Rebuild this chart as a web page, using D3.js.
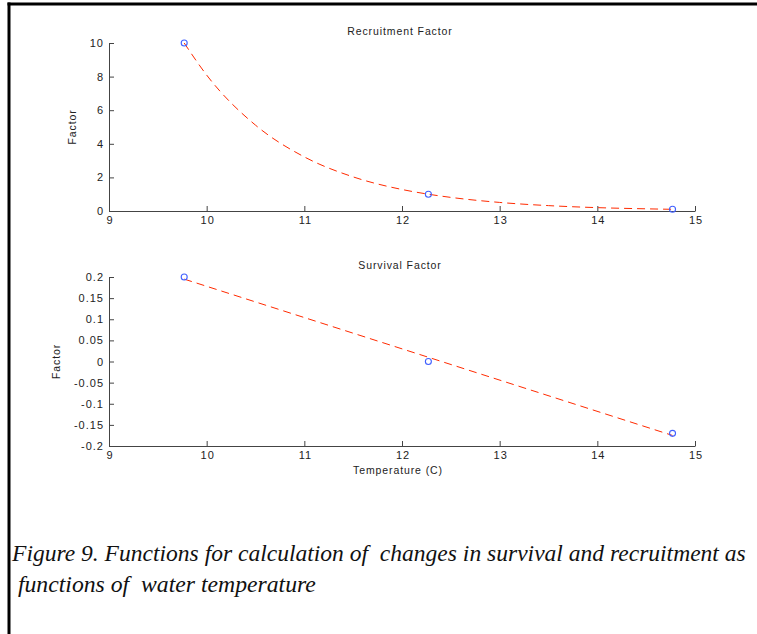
<!DOCTYPE html>
<html>
<head>
<meta charset="utf-8">
<script src="https://cdn.jsdelivr.net/npm/d3@7"></script>
<style>
  html, body { margin: 0; padding: 0; background: #fff; }
  svg { display: block; }
  .tick text { font-family: "Liberation Sans", Arial, sans-serif; font-size: 11px; fill: #222; letter-spacing: 1px; }
  .domain, .tick line { stroke: #444; }
  .lbl { font-family: "Liberation Sans", Arial, sans-serif; font-size: 10.5px; fill: #222; letter-spacing: 0.9px; }
  .cap { font-family: "Liberation Serif", "Times New Roman", serif; font-style: italic; font-size: 24px; fill: #111; white-space: pre; }
</style>
</head>
<body>
<script>
// Measured temperatures (C) and factors at those temperatures
const temps = [9.77, 12.27, 14.77];
const recruitment = [10, 1, 0.1];
const survival = [0.2, 0, -0.17];

// Fitted curves, sampled along temperature
const recruitFitT = [9.77, 10, 10.5, 11, 11.5, 12, 12.27, 12.5, 13, 13.5, 14, 14.5, 14.77];
const recruitFitV = [10, 8.09, 5.11, 3.22, 2.03, 1.28, 1.0, 0.81, 0.51, 0.32, 0.2, 0.13, 0.1];
const survivalFitT = [9.77, 12.27, 14.77];
const survivalFitV = [0.195, 0.01, -0.175];

// Axis ticks
const xTicks = [9, 10, 11, 12, 13, 14, 15];
const recruitTicks = [0, 2, 4, 6, 8, 10];
const survivalTicks = [-0.2, -0.15, -0.1, -0.05, 0, 0.05, 0.1, 0.15, 0.2];

const titles = ["Recruitment Factor", "Survival Factor"];
const yLabel = "Factor";
const xLabel = "Temperature (C)";
const caption = ["Figure 9. Functions for calculation of  changes in survival and recruitment as",
                 " functions of  water temperature"];

const W = 757, H = 634;
const svg = d3.select("body").append("svg").attr("width", W).attr("height", H);

// page frame (top and left rules)
svg.append("line").attr("x1", 7.5).attr("x2", W).attr("y1", 4).attr("y2", 4)
  .attr("stroke", "#000").attr("stroke-width", 3);
svg.append("line").attr("x1", 9).attr("x2", 9).attr("y1", 2.5).attr("y2", H)
  .attr("stroke", "#000").attr("stroke-width", 3);

const x = d3.scaleLinear().domain([9, 15]).range([109, 695]);

function panel(opts) {
  const y = d3.scaleLinear().domain(opts.domain).range([opts.bottom, opts.top]);
  const g = svg.append("g");

  g.append("g").attr("transform", `translate(0,${opts.bottom})`)
    .call(d3.axisBottom(x).tickValues(xTicks).tickFormat(d3.format("d"))
      .tickSizeInner(-5).tickSizeOuter(0).tickPadding(5))
    .call(a => a.selectAll(".tick text").attr("dx", "0.5px"));

  g.append("g").attr("transform", `translate(${x.range()[0]},0)`)
    .call(d3.axisLeft(y).tickValues(opts.ticks).tickFormat(opts.fmt)
      .tickSizeInner(-5).tickSizeOuter(0).tickPadding(5));

  g.append("text").attr("class", "lbl")
    .attr("x", (x.range()[0] + x.range()[1]) / 2 - 2).attr("y", opts.top - 8)
    .attr("text-anchor", "middle").text(opts.title);

  g.append("text").attr("class", "lbl")
    .attr("transform", `translate(${opts.ylabX},${(opts.top + opts.bottom) / 2}) rotate(-90)`)
    .attr("text-anchor", "middle").text(yLabel);

  const line = d3.line().x(d => x(d[0])).y(d => y(d[1])).curve(d3.curveMonotoneX);
  g.append("path").datum(d3.zip(opts.fitT, opts.fitV))
    .attr("d", line).attr("fill", "none")
    .attr("stroke", "#ff2a00").attr("stroke-width", 1)
    .attr("stroke-dasharray", "8,5");

  g.selectAll("circle").data(d3.zip(temps, opts.values)).join("circle")
    .attr("cx", d => x(d[0])).attr("cy", d => y(d[1])).attr("r", 3)
    .attr("fill", "none").attr("stroke", "#4060ff").attr("stroke-width", 1.1);
  return y;
}

panel({ domain: [0, 10], top: 43, bottom: 211, ticks: recruitTicks, fmt: d3.format("d"),
        title: titles[0], fitT: recruitFitT, fitV: recruitFitV, values: recruitment, ylabX: 76 });

panel({ domain: [-0.2, 0.2], top: 277, bottom: 446, ticks: survivalTicks,
        fmt: d => (d === 0 ? "0" : String(+d.toFixed(2))),
        title: titles[1], fitT: survivalFitT, fitV: survivalFitV, values: survival, ylabX: 60 });

svg.append("text").attr("class", "lbl")
  .attr("x", 398).attr("y", 474).attr("text-anchor", "middle").text(xLabel);

// figure caption: each line squeezed horizontally to its target width
const capLines = [
  { text: caption[0], x: 12, y: 561, width: 734 },
  { text: caption[1], x: 12, y: 592, width: 304 }
];
capLines.forEach(c => {
  const t = svg.append("text").attr("class", "cap").text(c.text);
  const natural = t.node().getComputedTextLength();
  const k = Math.min(1, c.width / natural);
  t.attr("transform", `translate(${c.x},${c.y}) scale(${k},1)`);
});
</script>
</body>
</html>
